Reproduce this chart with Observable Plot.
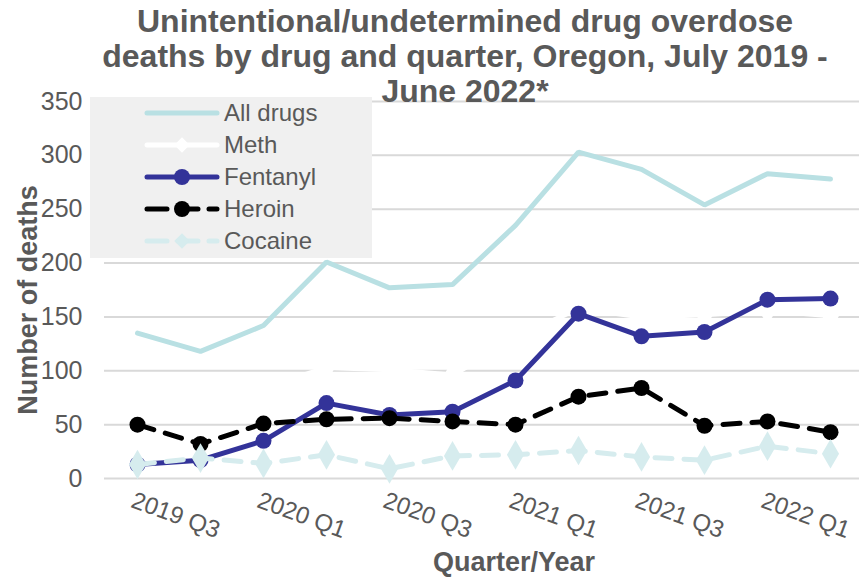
<!DOCTYPE html>
<html>
<head>
<meta charset="utf-8">
<script src="https://cdn.jsdelivr.net/npm/d3@7"></script>
<script src="https://cdn.jsdelivr.net/npm/@observablehq/plot@0.6"></script>
<style>
  html, body { margin: 0; padding: 0; background: #fff; }
  #wrap { position: relative; width: 859px; height: 579px; font-family: "Liberation Sans", Arial, sans-serif; }
  #title { position: absolute; left: 0; width: 930px; top: 4px; text-align: center; font-weight: bold; font-size: 32px; line-height: 35px; color: #595959; z-index: 3; }
  #legend { position: absolute; left: 90px; top: 97px; z-index: 2; }
  #chart { position: absolute; left: 0; top: 0; z-index: 1; }
</style>
</head>
<body>
<div id="wrap">
  <div id="title">Unintentional/undetermined drug overdose<br>deaths by drug and quarter, Oregon, July 2019 -<br>June 2022*</div>
  <div id="chart"></div>
  <div id="legend"></div>
</div>
<script>
const quarters = ["2019 Q3","2019 Q4","2020 Q1","2020 Q2","2020 Q3","2020 Q4","2021 Q1","2021 Q2","2021 Q3","2021 Q4","2022 Q1","2022 Q2"];
const tickLabels = ["2019 Q3","2020 Q1","2020 Q3","2021 Q1","2021 Q3","2022 Q1"];
const yTicks = [0, 50, 100, 150, 200, 250, 300, 350];
const allDrugs = [135, 118, 142, 201, 177, 180, 235, 303, 287, 254, 283, 278];
const meth     = [80, 76, 84, 103, 101, 96, 130, 158, 150, 152, 156, 151];
const fentanyl = [13, 17, 35, 70, 59, 62, 91, 153, 132, 136, 166, 167];
const heroin   = [50, 32, 51, 55, 56, 53, 50, 76, 84, 49, 53, 43];
const cocaine  = [13, 19, 14, 22, 9, 21, 22, 26, 20, 17, 30, 23];

const seriesNames = ["All drugs", "Meth", "Fentanyl", "Heroin", "Cocaine"];
const seriesValues = [allDrugs, meth, fentanyl, heroin, cocaine];
const styles = {
  "All drugs": {stroke: "#b9e0e3", dash: null, symbol: null, fill: null},
  "Meth":      {stroke: "#ffffff", dash: null, symbol: "diamond", fill: "#ffffff"},
  "Fentanyl":  {stroke: "#333399", dash: null, symbol: "circle", fill: "#333399"},
  "Heroin":    {stroke: "#000000", dash: "17,12", symbol: "circle", fill: "#000000"},
  "Cocaine":   {stroke: "#d6ecee", dash: "17,12", symbol: "diamond", fill: "#d6ecee"}
};

const marks = [
  Plot.ruleY(yTicks, {stroke: "#d9d9d9", strokeWidth: 2, insetLeft: -4})
];
seriesNames.forEach((name, i) => {
  const s = styles[name];
  const data = quarters.map((q, j) => ({q, v: seriesValues[i][j]}));
  marks.push(Plot.line(data, {x: "q", y: "v", stroke: s.stroke, strokeWidth: 5, strokeDasharray: s.dash, strokeLinejoin: "miter"}));
  if (s.symbol) {
    marks.push(Plot.dot(data, {x: "q", y: "v", fill: s.fill, stroke: "none", symbol: s.symbol, r: s.symbol === "circle" ? 8 : 9}));
  }
});

const chart = Plot.plot({
  width: 859,
  height: 579,
  marginLeft: 108,
  marginRight: 0,
  marginTop: 101,
  marginBottom: 101,
  style: {fontFamily: "'Liberation Sans', Arial, sans-serif", background: "transparent", overflow: "visible"},
  x: {type: "point", domain: quarters, padding: 0.45, label: null},
  y: {domain: [0, 350], label: null},
  marks: [
    ...marks,
    Plot.axisY({ticks: yTicks, tickSize: 0, tickPadding: 26, fontSize: 25, color: "#595959", label: null}),
    Plot.axisX({ticks: tickLabels, tickSize: 0, tickRotate: 20, tickPadding: 21, fontSize: 24, color: "#595959", label: null, textAnchor: "start", dx: -5}),
    Plot.text(["Number of deaths"], {frameAnchor: "left", textAnchor: "middle", dx: -80, dy: 10, rotate: -90, fontSize: 27, fontWeight: "bold", fill: "#595959"}),
    Plot.text(["Quarter/Year"], {frameAnchor: "bottom", dy: 92, dx: 30, fontSize: 27, fontWeight: "bold", fill: "#595959"})
  ]
});
document.getElementById("chart").appendChild(chart);

// Legend
const lw = 282, lh = 161;
const leg = d3.select("#legend").append("svg").attr("width", lw).attr("height", lh);
leg.append("rect").attr("width", lw).attr("height", lh).attr("fill", "#f0f0f0");
const rowsY = [16, 48, 80, 112, 144];
seriesNames.forEach((name, i) => {
  const s = styles[name];
  const g = leg.append("g").attr("transform", `translate(0,${rowsY[i]})`);
  g.append("line").attr("x1", 57).attr("x2", 127).attr("y1", 0).attr("y2", 0)
    .attr("stroke", s.stroke).attr("stroke-width", 5).attr("stroke-linecap", "round")
    .attr("stroke-dasharray", s.dash ? "20,11" : null);
  if (s.symbol === "circle") g.append("circle").attr("cx", 92).attr("r", 8).attr("fill", s.fill);
  if (s.symbol === "diamond") g.append("path").attr("d", d3.symbol(d3.symbolDiamond2, 150)()).attr("transform", "translate(92,0)").attr("fill", s.fill);
  g.append("text").attr("x", 134).attr("y", 8).attr("font-size", 24).attr("fill", "#595959")
    .attr("font-family", "'Liberation Sans', Arial, sans-serif").text(name);
});
</script>
</body>
</html>
